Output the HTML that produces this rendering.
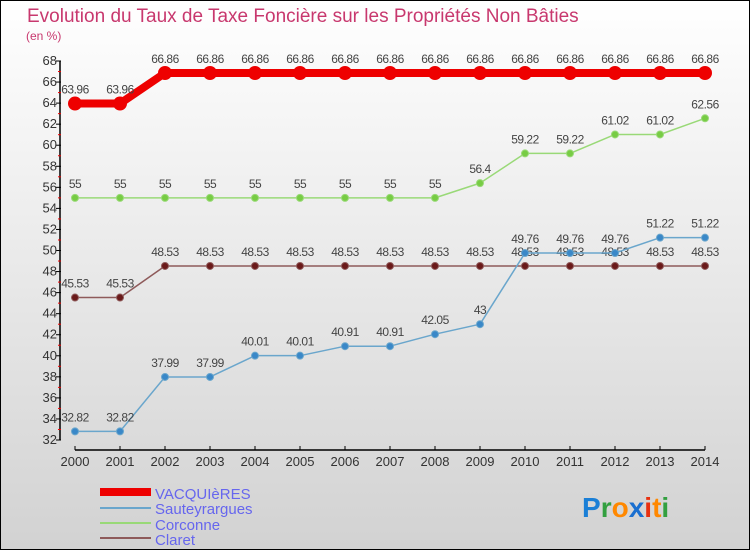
<!DOCTYPE html>
<html><head><meta charset="utf-8"><style>
body{margin:0;width:750px;height:550px;overflow:hidden}
svg{display:block;font-family:"Liberation Sans","DejaVu Sans",sans-serif}
</style></head><body>
<svg id="c" width="750" height="550">
<defs><linearGradient id="bg" x1="0" y1="0" x2="0" y2="1"><stop offset="0" stop-color="#ffffff"/><stop offset="1" stop-color="#d2d2d2"/></linearGradient></defs>
<rect x="0.5" y="0.5" width="749" height="549" fill="url(#bg)" stroke="#000"/>
<text x="27" y="22" font-size="19" fill="#c8386e">Evolution du Taux de Taxe Foncière sur les Propriétés Non Bâties</text>
<text x="26" y="40" font-size="12" fill="#c8386e">(en %)</text>
<g id="axes"></g><g id="series"></g>
<g>
<rect x="100" y="488" width="51" height="8" fill="#ee0000"/>
<text x="155" y="499" font-size="15" fill="#6666ee">VACQUIèRES</text>
<line x1="100" y1="508" x2="151" y2="508" stroke="#6aa6cc" stroke-width="2"/>
<text x="155" y="514" font-size="15" fill="#6666ee">Sauteyrargues</text>
<line x1="100" y1="523" x2="151" y2="523" stroke="#99d977" stroke-width="2"/>
<text x="155" y="530" font-size="15" fill="#6666ee">Corconne</text>
<line x1="100" y1="538" x2="151" y2="538" stroke="#8e5a5a" stroke-width="2"/>
<text x="155" y="545" font-size="15" fill="#6666ee">Claret</text>
</g>
<text x="582" y="517" font-size="28" font-weight="bold"><tspan fill="#1a7fd6">P</tspan><tspan fill="#33a040">r</tspan><tspan fill="#ff8800">o</tspan><tspan fill="#1a6fd0">x</tspan><tspan fill="#e83010">i</tspan><tspan fill="#ff8800">t</tspan><tspan fill="#33a040">i</tspan></text>
</svg>
<script>
const years=["2000","2001","2002","2003","2004","2005","2006","2007","2008","2009","2010","2011","2012","2013","2014"];
const vacquieres=[63.96,63.96,66.86,66.86,66.86,66.86,66.86,66.86,66.86,66.86,66.86,66.86,66.86,66.86,66.86];
const sauteyrargues=[32.82,32.82,37.99,37.99,40.01,40.01,40.91,40.91,42.05,43,49.76,49.76,49.76,51.22,51.22];
const corconne=[55,55,55,55,55,55,55,55,55,56.4,59.22,59.22,61.02,61.02,62.56];
const claret=[45.53,45.53,48.53,48.53,48.53,48.53,48.53,48.53,48.53,48.53,48.53,48.53,48.53,48.53,48.53];
const yTicks=[32,34,36,38,40,42,44,46,48,50,52,54,56,58,60,62,64,66,68];
const NS="http://www.w3.org/2000/svg";
const X=i=>75+i*45, Y=v=>440-(v-32)*(379/36);
function mk(t,a,p){const e=document.createElementNS(NS,t);for(const k in a)e.setAttribute(k,a[k]);p.appendChild(e);return e;}
const ax=document.getElementById('axes');
let e=mk('line',{x1:60,y1:Y(68),x2:60,y2:Y(32),stroke:'#000','stroke-width':1.5},ax);


e=mk('line',{x1:75,y1:450,x2:705,y2:450,stroke:'#000','stroke-width':1.5},ax);


yTicks.forEach((v,i)=>{
 mk('line',{x1:56,y1:Y(v),x2:61,y2:Y(v),stroke:'#000'},ax);
 if(i<yTicks.length-1)mk('line',{x1:58,y1:Y(v+1),x2:61,y2:Y(v+1),stroke:'#e00'},ax);
 const t=mk('text',{x:57,y:Y(v)+4,'font-size':13,fill:'#333','text-anchor':'end'},ax);t.textContent=v;
 
 
});
years.forEach((y,i)=>{
 mk('line',{x1:X(i),y1:446,x2:X(i),y2:450,stroke:'#000'},ax);
 const t=mk('text',{x:X(i),y:466,'font-size':13,fill:'#333','text-anchor':'middle'},ax);t.textContent=y;
 
 
});
const sg=document.getElementById('series');
function draw(d,name,col,w,r,dot){
 const g=mk('g',{},sg);
 
 
 mk('polyline',{points:d.map((v,i)=>X(i)+','+Y(v)).join(' '),fill:'none',stroke:col,'stroke-width':w,'stroke-linejoin':'round'},g);
 d.forEach((v,i)=>{
  const c=mk('circle',{cx:X(i),cy:Y(v),r:r,fill:dot,stroke:col,'stroke-width':1},g);
  
  
  const t=mk('text',{x:X(i),y:Y(v)-10,'font-size':12,fill:'#444','text-anchor':'middle','letter-spacing':'-0.5'},g);
  t.textContent=v;
  
  
 });
}
draw(claret,'claret','#8e5a5a',1.5,3.5,'#6a1a1a');
draw(corconne,'corconne','#99d977',1.5,3.5,'#77cc44');
draw(sauteyrargues,'sauteyrargues','#6aa6cc',1.5,3.5,'#3a88c8');
draw(vacquieres,'vacquieres','#ee0000',8,6.5,'#ee0000');
</script>
</body></html>
